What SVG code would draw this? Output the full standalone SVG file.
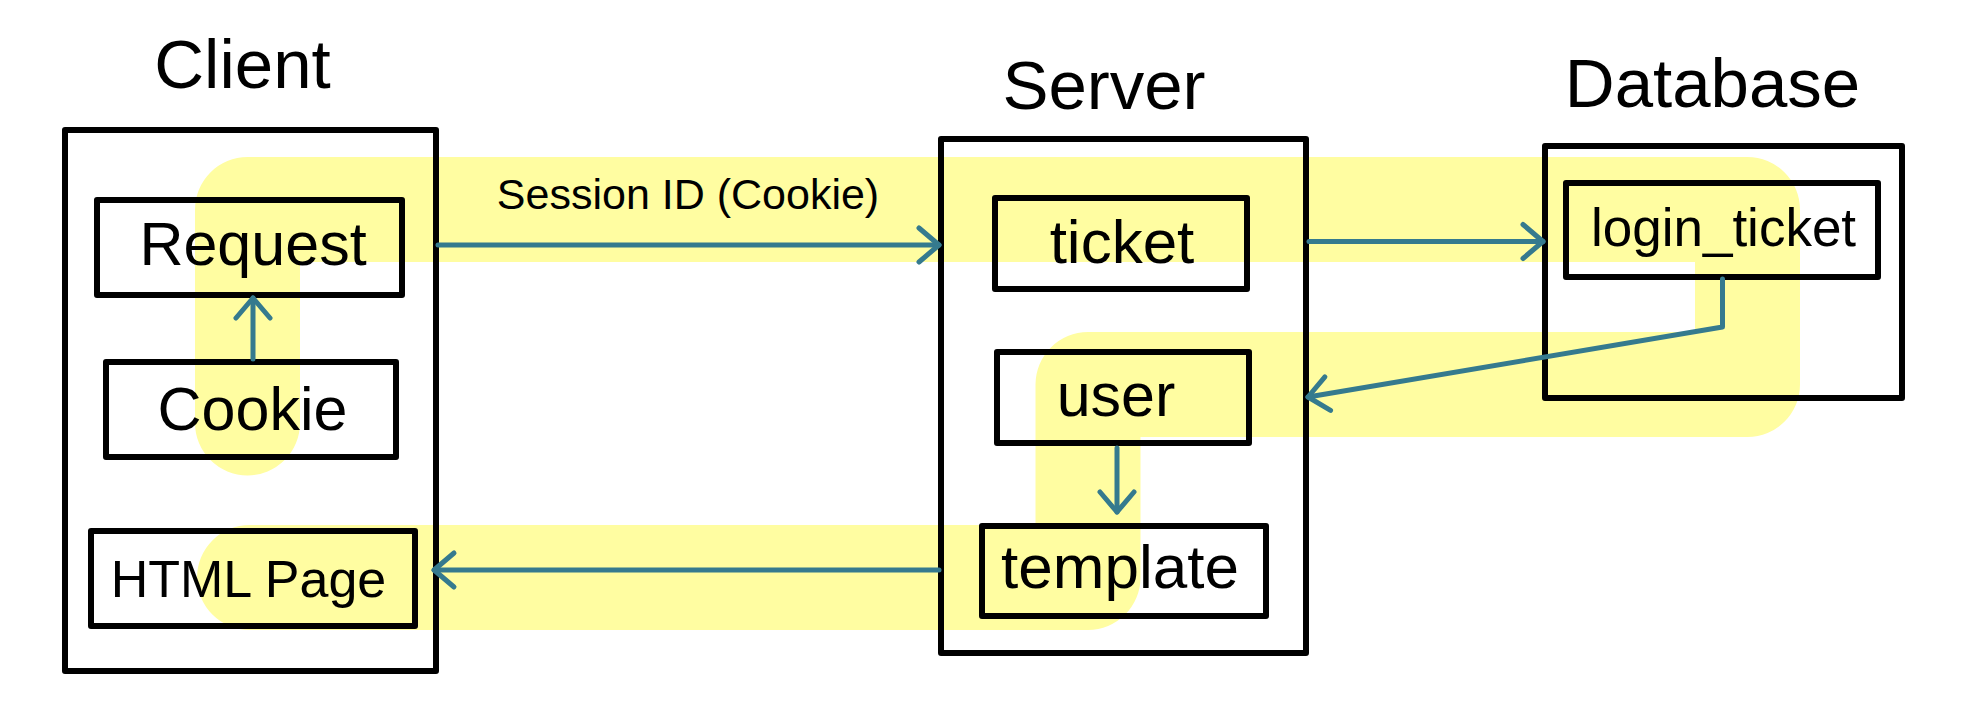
<svg xmlns="http://www.w3.org/2000/svg" width="1970" height="707" viewBox="0 0 1970 707">
<style>
.box{fill:none;stroke:#000;stroke-width:6;stroke-linejoin:round}
.t{font-family:"Liberation Sans",Arial,Helvetica,sans-serif;fill:#000;text-anchor:middle}
.c{fill:none;stroke:#357A8E;stroke-width:5;stroke-linecap:round;stroke-linejoin:round}
.hl{fill:none;stroke:#FFFDA1;stroke-width:105;stroke-linejoin:round;stroke-linecap:round}
</style>
<defs>
<marker id="ah" markerUnits="userSpaceOnUse" viewBox="-25 -22 30 44" refX="0" refY="0" markerWidth="30" markerHeight="44" orient="auto" overflow="visible">
<path d="M-20,-17 L0,0 L-20,17" fill="none" stroke="#357A8E" stroke-width="5" stroke-linecap="round" stroke-linejoin="round"/>
</marker>
</defs>
<rect width="1970" height="707" fill="#fff"/>
<g id="highlight">
<path class="hl" d="M247.5,423 L247.5,209.5 L1747.5,209.5 L1747.5,384.5 L1088,384.5 L1088,577.5 L249.5,577.5"/>
</g>
<g id="client">
<text class="t" x="242.5" y="88" font-size="69">Client</text>
<rect class="box" x="65" y="130" width="371" height="541"/>
</g>
<g id="request">
<rect class="box" x="97" y="200" width="305" height="95"/>
<text class="t" x="253" y="265" font-size="61">Request</text>
</g>
<g id="cookie">
<rect class="box" x="106" y="362" width="290" height="95"/>
<text class="t" x="252.5" y="430" font-size="61">Cookie</text>
</g>
<g id="htmlpage">
<rect class="box" x="91" y="531" width="324" height="95"/>
<text class="t" x="248.5" y="597" font-size="52">HTML Page</text>
</g>
<g id="server">
<text class="t" x="1104" y="109" font-size="69">Server</text>
<rect class="box" x="941" y="139" width="365" height="514"/>
</g>
<g id="ticket">
<rect class="box" x="995" y="198" width="252" height="91"/>
<text class="t" x="1122" y="263" font-size="62">ticket</text>
</g>
<g id="user">
<rect class="box" x="997" y="352" width="252" height="91"/>
<text class="t" x="1116" y="416" font-size="61">user</text>
</g>
<g id="template">
<rect class="box" x="982" y="526" width="284" height="90"/>
<text class="t" x="1120" y="588" font-size="62">template</text>
</g>
<g id="database">
<text class="t" x="1712.5" y="107" font-size="69">Database</text>
<rect class="box" x="1545" y="146" width="357" height="252"/>
</g>
<g id="login_ticket">
<rect class="box" x="1566" y="183" width="312" height="94"/>
<text class="t" x="1723.5" y="246" font-size="53">login_ticket</text>
</g>
<g id="connectors">
<path class="c" d="M253,359 L253,298" marker-end="url(#ah)"/>
<path class="c" d="M438,245 L939,245" marker-end="url(#ah)"/>
<text class="t" x="688" y="209" font-size="43">Session ID (Cookie)</text>
<path class="c" d="M1309,241.5 L1543,241.5" marker-end="url(#ah)"/>
<path class="c" d="M1722.5,279 L1722.5,327 L1308,397" marker-end="url(#ah)"/>
<path class="c" d="M1117,448 L1117,512" marker-end="url(#ah)"/>
<path class="c" d="M939,570 L434,570" marker-end="url(#ah)"/>
</g>
</svg>
